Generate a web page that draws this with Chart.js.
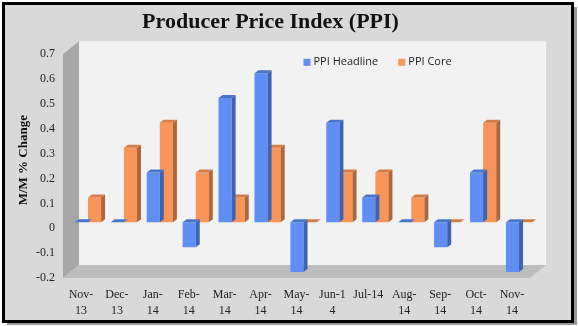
<!DOCTYPE html>
<html>
<head>
<meta charset="utf-8">
<script src="https://cdn.jsdelivr.net/npm/chart.js@4/dist/chart.umd.min.js"></script>
<style>
  html, body { margin: 0; padding: 0; background: #fff; }
  canvas { display: block; }
</style>
</head>
<body>
<canvas id="ppiChart" width="578" height="326"></canvas>
<script>
// datos
const categories = ['Nov-13', 'Dec-13', 'Jan-14', 'Feb-14', 'Mar-14', 'Apr-14', 'May-14',
  'Jun-14', 'Jul-14', 'Aug-14', 'Sep-14', 'Oct-14', 'Nov-14'];
const tickLabels = [['Nov-', '13'], ['Dec-', '13'], ['Jan-', '14'], ['Feb-', '14'], ['Mar-', '14'],
  ['Apr-', '14'], ['May-', '14'], ['Jun-1', '4'], 'Jul-14', ['Aug-', '14'], ['Sep-', '14'],
  ['Oct-', '14'], ['Nov-', '14']];
const ppiHeadline = [0, 0, 0.2, -0.1, 0.5, 0.6, -0.2, 0.4, 0.1, 0, -0.1, 0.2, -0.2];
const ppiCore = [0.1, 0.3, 0.4, 0.2, 0.1, 0.3, 0, 0.2, 0.2, 0.1, 0, 0.4, 0];
const yTicks = [-0.2, -0.1, 0, 0.1, 0.2, 0.3, 0.4, 0.5, 0.6, 0.7];

const colores = {
  headline: { front: '#5f8ff5', side: '#3e63b3', top: '#4a74c8' },
  core: { front: '#fa955a', side: '#ae673b', top: '#d27d48' }
};

// marco gris con borde negro
const marcoPlugin = {
  id: 'marco',
  beforeDraw(chart) {
    const ctx = chart.ctx;
    ctx.save();
    ctx.fillStyle = '#ffffff';
    ctx.fillRect(0, 0, chart.width, chart.height);
    ctx.fillStyle = '#9a9a9a';
    ctx.fillRect(7, 7, chart.width - 8, chart.height - 8);
    ctx.fillStyle = '#d9d9d9';
    ctx.fillRect(3, 3, chart.width - 8, chart.height - 7);
    ctx.strokeStyle = '#000';
    ctx.lineWidth = 3;
    ctx.strokeRect(3.5, 3.5, chart.width - 9, chart.height - 8);
    ctx.restore();
  }
};

// paredes 3D (fondo, lateral, piso)
const paredesPlugin = {
  id: 'paredes',
  beforeDatasetsDraw(chart) {
    const ctx = chart.ctx;
    const ca = chart.chartArea;
    const bx = 9, by = -7;   // plano trasero
    const fx = -7, fy = 6;   // plano delantero
    ctx.save();
    // pared trasera
    ctx.fillStyle = '#f2f2f2';
    ctx.fillRect(ca.left + bx, ca.top + by, ca.right - ca.left, ca.bottom - ca.top);
    // pared lateral
    ctx.fillStyle = '#a6a6a6';
    ctx.beginPath();
    ctx.moveTo(ca.left + fx, ca.top + fy);
    ctx.lineTo(ca.left + bx, ca.top + by);
    ctx.lineTo(ca.left + bx, ca.bottom + by);
    ctx.lineTo(ca.left + fx, ca.bottom + fy);
    ctx.closePath();
    ctx.fill();
    // piso
    ctx.fillStyle = '#bdbdbd';
    ctx.beginPath();
    ctx.moveTo(ca.left + fx, ca.bottom + fy);
    ctx.lineTo(ca.left + bx, ca.bottom + by);
    ctx.lineTo(ca.right + bx, ca.bottom + by);
    ctx.lineTo(ca.right + fx, ca.bottom + fy);
    ctx.closePath();
    ctx.fill();
    ctx.restore();
  }
};

// caras laterales y superiores de cada barra
const barras3dPlugin = {
  id: 'barras3d',
  afterDatasetDraw(chart, args) {
    const ctx = chart.ctx;
    const ds = chart.data.datasets[args.index];
    const dx = 4, dy = 3;
    ctx.save();
    args.meta.data.forEach(el => {
      const p = el.getProps(['x', 'y', 'base', 'width'], true);
      const left = p.x - p.width / 2;
      const right = p.x + p.width / 2;
      const top = Math.min(p.y, p.base);
      const bottom = Math.max(p.y, p.base);
      ctx.fillStyle = ds.sideColor;
      ctx.beginPath();
      ctx.moveTo(right, top);
      ctx.lineTo(right + dx, top - dy);
      ctx.lineTo(right + dx, bottom - dy);
      ctx.lineTo(right, bottom);
      ctx.closePath();
      ctx.fill();
      ctx.fillStyle = ds.topColor;
      ctx.beginPath();
      ctx.moveTo(left, top);
      ctx.lineTo(left + dx, top - dy);
      ctx.lineTo(right + dx, top - dy);
      ctx.lineTo(right, top);
      ctx.closePath();
      ctx.fill();
    });
    ctx.restore();
  }
};

// leyenda dentro del area
const leyendaPlugin = {
  id: 'leyenda',
  afterDraw(chart) {
    const ctx = chart.ctx;
    const ca = chart.chartArea;
    let x = (ca.left + ca.right) / 2;
    const y = ca.top + 14;
    ctx.save();
    ctx.font = '11px "Open Sans", sans-serif';
    ctx.textBaseline = 'middle';
    chart.data.datasets.forEach(ds => {
      ctx.fillStyle = ds.backgroundColor;
      ctx.fillRect(x, y - 3.5, 7, 7);
      ctx.fillStyle = '#222';
      ctx.fillText(ds.label, x + 10, y);
      x += ctx.measureText(ds.label).width + 30;
    });
    ctx.restore();
  }
};

function initChart() {
  const ctx = document.getElementById('ppiChart').getContext('2d');
  new Chart(ctx, {
    type: 'bar',
    data: {
      labels: categories,
      datasets: [{
        label: 'PPI Headline',
        data: ppiHeadline,
        backgroundColor: colores.headline.front,
        sideColor: colores.headline.side,
        topColor: colores.headline.top,
        borderWidth: 0
      }, {
        label: 'PPI Core',
        data: ppiCore,
        backgroundColor: colores.core.front,
        sideColor: colores.core.side,
        topColor: colores.core.top,
        borderWidth: 0
      }]
    },
    options: {
      responsive: false,
      animation: false,
      layout: { padding: { left: 4, right: 41, top: 0, bottom: 9 } },
      datasets: { bar: { categoryPercentage: 0.73, barPercentage: 1 } },
      plugins: {
        legend: { display: false },
        tooltip: { enabled: false },
        title: {
          display: true,
          text: 'Producer Price Index (PPI)',
          color: '#111',
          font: { family: '"Liberation Serif", serif', size: 22, weight: 'bold', lineHeight: 1.15 },
          padding: { top: 10, bottom: 13 }
        }
      },
      scales: {
        x: {
          grid: { display: false, drawTicks: false },
          border: { display: false },
          afterFit: axis => { axis.height = 45; },
          ticks: {
            color: '#222',
            padding: 14,
            labelOffset: -7,
            maxRotation: 0,
            autoSkip: false,
            font: { family: '"Liberation Serif", serif', size: 12, lineHeight: 1.4 },
            callback: (v, i) => tickLabels[i]
          }
        },
        y: {
          min: -0.2,
          max: 0.7,
          grid: { display: false, drawTicks: false },
          border: { display: false },
          afterFit: axis => { axis.width = 66; },
          afterBuildTicks: axis => { axis.ticks = yTicks.map(v => ({ value: v })); },
          title: {
            display: true,
            text: 'M/M % Change',
            color: '#111',
            font: { family: '"Liberation Serif", serif', size: 13, weight: 'bold' },
            padding: { top: 12, bottom: 0 }
          },
          ticks: {
            color: '#222',
            padding: 15,
            labelOffset: 6,
            font: { family: '"Liberation Serif", serif', size: 12 },
            callback: v => String(Math.round(v * 10) / 10)
          }
        }
      }
    },
    plugins: [marcoPlugin, paredesPlugin, barras3dPlugin, leyendaPlugin]
  });
}

document.addEventListener('DOMContentLoaded', initChart);
</script>
</body>
</html>
